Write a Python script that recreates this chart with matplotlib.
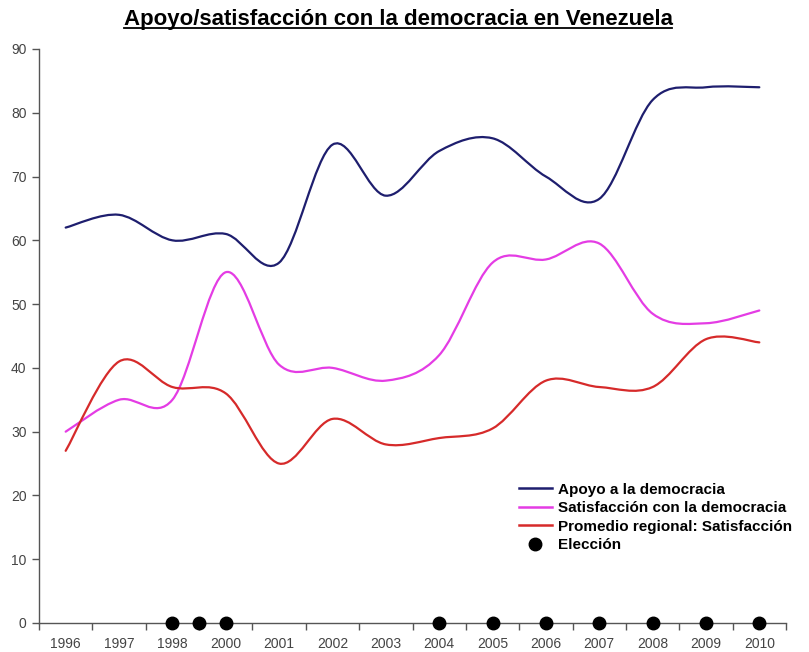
import numpy as np
import matplotlib
matplotlib.use('Agg')
import matplotlib.pyplot as plt
from matplotlib.path import Path
from matplotlib.patches import PathPatch
from matplotlib.lines import Line2D

plt.rcParams['font.family'] = ['Liberation Sans', 'DejaVu Sans']

# data (1999 has no survey)
years = [1996, 1997, 1998, 2000, 2001, 2002, 2003, 2004, 2005, 2006, 2007, 2008, 2009, 2010]
apoyo = [62, 64, 60, 61, 56.5, 75, 67, 74, 76, 70, 66.5, 82, 84, 84]
satisfaccion = [30, 35, 35, 55, 40.5, 40, 38, 42, 56.5, 57, 59.5, 48.5, 47, 49]
regional = [27, 41, 37, 36, 25, 32, 28, 29, 30.5, 38, 37, 37, 44.5, 44]
elecciones = [1998, 1999, 2000, 2004, 2005, 2006, 2007, 2008, 2009, 2010]

labels = ['Apoyo a la democracia', 'Satisfacción con la democracia',
          'Promedio regional: Satisfacción', 'Elección']
colores = ['#1e1e6e', '#e43ce4', '#d62a2a']


def smooth_path(x, y):
    # excel-like smoothed line: cubic bezier through every point
    pts = np.column_stack([x, y]).astype(float)
    n = len(pts)
    verts = [pts[0]]
    codes = [Path.MOVETO]
    for i in range(n - 1):
        p0 = pts[max(i - 1, 0)]
        p1 = pts[i]
        p2 = pts[i + 1]
        p3 = pts[min(i + 2, n - 1)]
        verts += [p1 + (p2 - p0) / 6, p2 - (p3 - p1) / 6, p2]
        codes += [Path.CURVE4] * 3
    return Path(verts, codes)


fig = plt.figure(figsize=(8.09, 6.52), dpi=100)
ax = fig.add_axes([39 / 809, 29 / 652, (786 - 39) / 809, (623 - 49) / 652])

x = np.arange(len(years))
for serie, c in zip([apoyo, satisfaccion, regional], colores):
    ax.add_patch(PathPatch(smooth_path(x, serie), fill=False, edgecolor=c, lw=1.6,
                           capstyle='round', joinstyle='round'))

# election years mapped onto the category axis
xe = np.interp(elecciones, years, x)
ax.plot(xe, np.zeros(len(xe)), 'o', color='black', ms=9, clip_on=False, zorder=5)

ax.set_xlim(-0.5, len(years) - 0.5)
ax.set_ylim(0, 90)
ax.set_yticks(range(0, 91, 10))
ax.set_xticks(np.arange(len(years) + 1) - 0.5)
ax.set_xticklabels([])
ax.set_xticks(x, minor=True)
ax.set_xticklabels([str(a) for a in years], minor=True)
ax.tick_params(axis='x', which='minor', length=0, pad=10)
ax.tick_params(axis='both', which='major', length=5, width=1, color='#555555',
               labelcolor='#444444', labelsize=10)
ax.tick_params(axis='x', which='minor', labelcolor='#444444', labelsize=10)
ax.tick_params(axis='y', pad=4)
for s in ['top', 'right']:
    ax.spines[s].set_visible(False)
for s in ['left', 'bottom']:
    ax.spines[s].set_color('#555555')
    ax.spines[s].set_linewidth(1)

handles = [Line2D([], [], color=c, lw=1.8) for c in colores]
handles.append(Line2D([], [], ls='none', marker='o', color='black', ms=9))
ax.legend(handles, labels, loc='upper left', bbox_to_anchor=(511 / 809, 1 - 475 / 652),
          bbox_transform=fig.transFigure, frameon=False, handlelength=2.2,
          handletextpad=0.4, labelspacing=0.3, borderpad=0,
          prop={'size': 11, 'weight': 'bold'})

titulo = fig.text(398 / 809, 1 - 19 / 652, 'Apoyo/satisfacción con la democracia en Venezuela',
                  ha='center', va='center', fontsize=16, weight='bold')

# underline the title
fig.canvas.draw()
bb = titulo.get_window_extent().transformed(fig.transFigure.inverted())
fig.add_artist(Line2D([bb.x0, bb.x1], [bb.y0 + 0.002, bb.y0 + 0.002], color='black', lw=1.3,
                      transform=fig.transFigure))

fig.savefig('out.png', dpi=100)
